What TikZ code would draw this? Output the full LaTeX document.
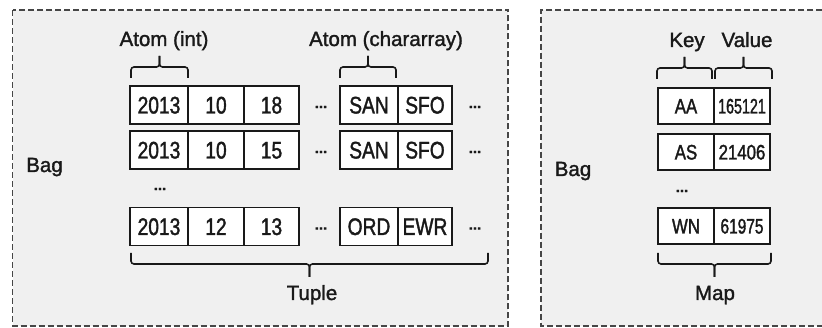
\documentclass[tikz,border=0pt]{standalone}
\usepackage{fontspec}
\setmainfont{Liberation Sans}[FakeBold=1.5]
\newfontfamily\narrowfont{Liberation Sans}[FakeStretch=0.8,FakeBold=1.5]
\usetikzlibrary{positioning}

\definecolor{panelgray}{RGB}{240,240,240}
\definecolor{framegray}{RGB}{70,70,70}
\definecolor{inkgray}{RGB}{25,25,25}

% brace over / under a group of fields: left x, right x, y of the free ends
\newcommand{\bracketup}[3]{%
  \draw[bracket] (#1,#3) -- ++(0,-11) -| ({(#1+#2)/2},#3-22);
  \draw[bracket] (#2,#3) -- ++(0,-11) -| ({(#1+#2)/2},#3-22);}
\newcommand{\bracketdown}[3]{%
  \draw[bracket] (#1,#3) -- ++(0,11) -| ({(#1+#2)/2},#3+24);
  \draw[bracket] (#2,#3) -- ++(0,11) -| ({(#1+#2)/2},#3+24);}

\begin{document}
\begin{tikzpicture}[x=1pt,y=-1pt,
  frame/.style={draw=framegray,line width=1.6pt,dash pattern=on 6pt off 3pt},
  field/.style={draw=inkgray,line width=1.7pt,fill=white,inner sep=0pt,outer sep=0pt,
    minimum height=38pt,text height=17pt,text depth=0pt,text=inkgray,
    font=\narrowfont\fontsize{24}{24}\selectfont},
  pair font/.style={minimum height=36pt,text height=15pt,
    font=\narrowfont\fontsize{21}{21}\selectfont},
  heading/.style={inner sep=0pt,anchor=base,text=inkgray,font=\fontsize{20.5}{22}\selectfont},
  gap dots/.style={inner sep=0pt,text=inkgray,font=\bfseries\fontsize{15}{15}\selectfont},
  bracket/.style={draw=inkgray,line width=1.6pt,rounded corners=3pt}]

\useasboundingbox (0,0) rectangle (822,328);

% the two bags
\fill[panelgray] (12.5,10) rectangle (508,326);
\draw[frame] (12.5,10) rectangle (508,326);
\fill[panelgray] (541,10) rectangle (822,326);
\draw[frame] (822,10) -- (541,10) -- (541,326) -- (822,326);

% tuples
\foreach \r/\y/\a/\b/\c/\d/\e in {1/105/2013/10/18/SAN/SFO,2/150/2013/10/15/SAN/SFO,3/226.5/2013/12/13/ORD/EWR}{
  \node[field,minimum width=58pt,anchor=west] (year \r) at (130,\y) {\a};
  \node[field,minimum width=56pt,right=0pt of year \r] (month \r) {\b};
  \node[field,minimum width=55pt,right=0pt of month \r] (day \r) {\c};
  \node[gap dots] (gap \r) at (321,\y+2) {...};
  \node[field,minimum width=58pt,anchor=west] (origin \r) at (340,\y) {\d};
  \node[field,minimum width=54pt,right=0pt of origin \r] (dest \r) {\e};
  \node[gap dots] (more \r) at (475,\y+2) {...};
}
\node[gap dots] (skip left) at (160,189) {...};

% map
\foreach \r/\y/\k/\v in {1/106/AA/{\scalebox{0.85}[1]{165121}},2/152/AS/21406,3/226/WN/{\scalebox{0.92}[1]{61975}}}{
  \node[field,pair font,minimum width=56pt,anchor=west] (key \r) at (658,\y) {\k};
  \node[field,pair font,minimum width=56pt,right=0pt of key \r] (value \r) {\v};
}
\node[gap dots] (skip right) at (682,191) {...};

% labels
\node[heading] (bag left) at (44.5,172) {Bag};
\node[heading] (bag right) at (573,176) {Bag};
\node[heading] (atom int) at (164,46) {Atom (int)};
\node[heading] (atom chars) at (386,46) {Atom (chararray)};
\node[heading] (key label) at (687,47) {Key};
\node[heading] (value label) at (747,47) {Value};
\node[heading] (tuple label) at (312,300) {Tuple};
\node[heading] (map label) at (715,300) {Map};

\bracketup{131}{188}{78}
\bracketup{340}{396}{78}
\bracketup{657}{712}{79}
\bracketup{715}{772}{79}
\bracketdown{131}{488}{253}
\bracketdown{658}{771}{253}

\end{tikzpicture}
\end{document}
